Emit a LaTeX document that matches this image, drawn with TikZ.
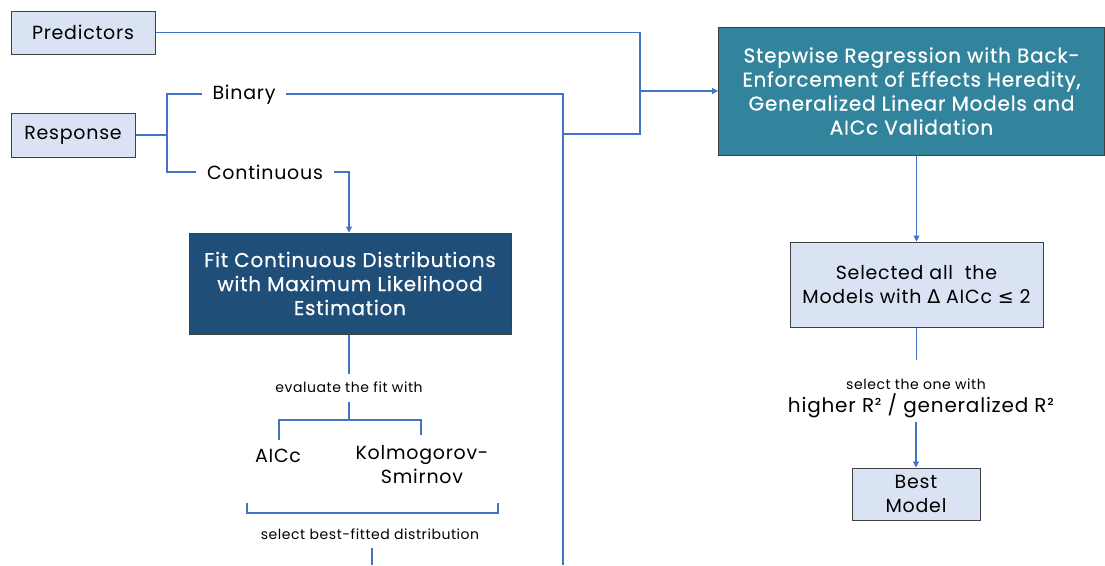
\documentclass[tikz,border=0pt]{standalone}
\usepackage{fontspec}
\setmainfont{Poppins}
\newfontfamily\wfont[LetterSpace=4]{Poppins}
\newfontfamily\wbfont[LetterSpace=4,FakeBold=0.6]{Poppins}
\newfontfamily\symfont{DejaVu Sans}
\usetikzlibrary{arrows.meta}
\definecolor{lineblue}{HTML}{4472C4}
\definecolor{lightbox}{HTML}{DAE3F3}
\definecolor{darkbox}{HTML}{1F4E79}
\definecolor{tealbox}{HTML}{31849B}
\definecolor{boxedge}{HTML}{404040}
\tikzset{
  conn/.style={draw=lineblue, line width=1.1pt},
  arr/.style={conn, -{Triangle[length=6pt,width=6pt]}},
  lbox/.style={draw=boxedge, line width=1pt, fill=lightbox, align=center, inner sep=0pt,
    font=\wfont\fontsize{19}{24}\selectfont},
  dbox/.style={draw=boxedge, line width=1pt, align=center, inner sep=0pt, text=white,
    font=\wbfont\fontsize{20}{24}\selectfont},
  lab/.style={align=center, inner sep=0pt, font=\wfont\fontsize{19}{24}\selectfont},
  small/.style={align=center, inner sep=0pt, font=\wfont\fontsize{14}{15}\selectfont},
}
\begin{document}
\begin{tikzpicture}[x=1pt,y=-1pt]
\useasboundingbox (0,0) rectangle (1105,565);
% boxes
\node[lbox, minimum width=144pt, minimum height=43pt] (pred) at (83,32.5) {Predictors};
\node[lbox, minimum width=124pt, minimum height=44pt] (resp) at (73,135) {Response};
\node[dbox, fill=darkbox, minimum width=322pt, minimum height=101pt] (fit) at (350,283.5)
  {Fit Continuous Distributions\\with Maximum Likelihood\\Estimation};
\node[dbox, fill=tealbox, minimum width=386pt, minimum height=128pt] (step) at (911.5,91)
  {Stepwise Regression with Back-\\Enforcement of Effects Heredity,\\Generalized Linear Models and\\AICc Validation};
\node[lbox, minimum width=253pt, minimum height=85pt] (sel) at (916.5,284.5)
  {Selected all\ \ the\\Models with {\symfont Δ} AICc {\symfont ≤} 2};
\node[lbox, minimum width=128pt, minimum height=52pt] (best) at (916,494) {Best\\Model};
% labels
\node[lab, inner xsep=10pt] (bin) at (244,95) {Binary};
\node[lab, inner xsep=11pt] (cont) at (265,172) {Continuous};
\node[small] (eval) at (349,387) {evaluate the fit with};
\node[lab] (aicc) at (278,456) {AICc};
\node[lab] (ks) at (422,465) {Kolmogorov-\\Smirnov};
\node[small] (sbest) at (370,534) {select best-fitted distribution};
\node[small] (sone) at (916,384) {select the one with};
\node[lab, font=\wfont\fontsize{20}{24}\selectfont] (higher) at (921,406) {higher R² / generalized R²};
% junction coordinates
\coordinate (rj) at (167,135);
\coordinate (vb) at (563,94);
\coordinate (vbot) at (563,565);
\coordinate (vj) at (563,134);
\coordinate (pj) at (640,134);
\coordinate (pa) at (640,91);
\coordinate (ptop) at (640,32.5);
\coordinate (cj) at (349,172);
\coordinate (ej) at (349,420);
\coordinate (al) at (279,420);
\coordinate (ar) at (421,420);
\coordinate (bl) at (247,513);
\coordinate (br) at (498,513);
% connectors
\draw[conn] (pred.east) -- (ptop) -- (pj) -- (vj);
\draw[arr] (pa) -- (step.west);
\draw[conn] (resp.east) -- (rj);
\draw[conn] (bin.west |- vb) -| (rj) |- (cont.west);
\draw[conn] (bin.east |- vb) -- (vb) -- (vbot);
\draw[arr] (cont.east) -- (cj) -- (fit.north -| cj);
\draw[conn] (fit.south -| cj) -- (349,374);
\draw[conn] (349,402) -- (ej);
\draw[conn] (279,440) -- (al) -- (ar) -- (421,435);
\draw[conn] (247,503) -- (bl) -- (br) -- (498,503);
\draw[conn] (372,548) -- (372,565);
\draw[arr] (step.south -| sel.north) -- (sel.north);
\draw[conn] (sel.south) -- (916.5,360);
\draw[arr] (916,422) -- (best.north);
\end{tikzpicture}
\end{document}
